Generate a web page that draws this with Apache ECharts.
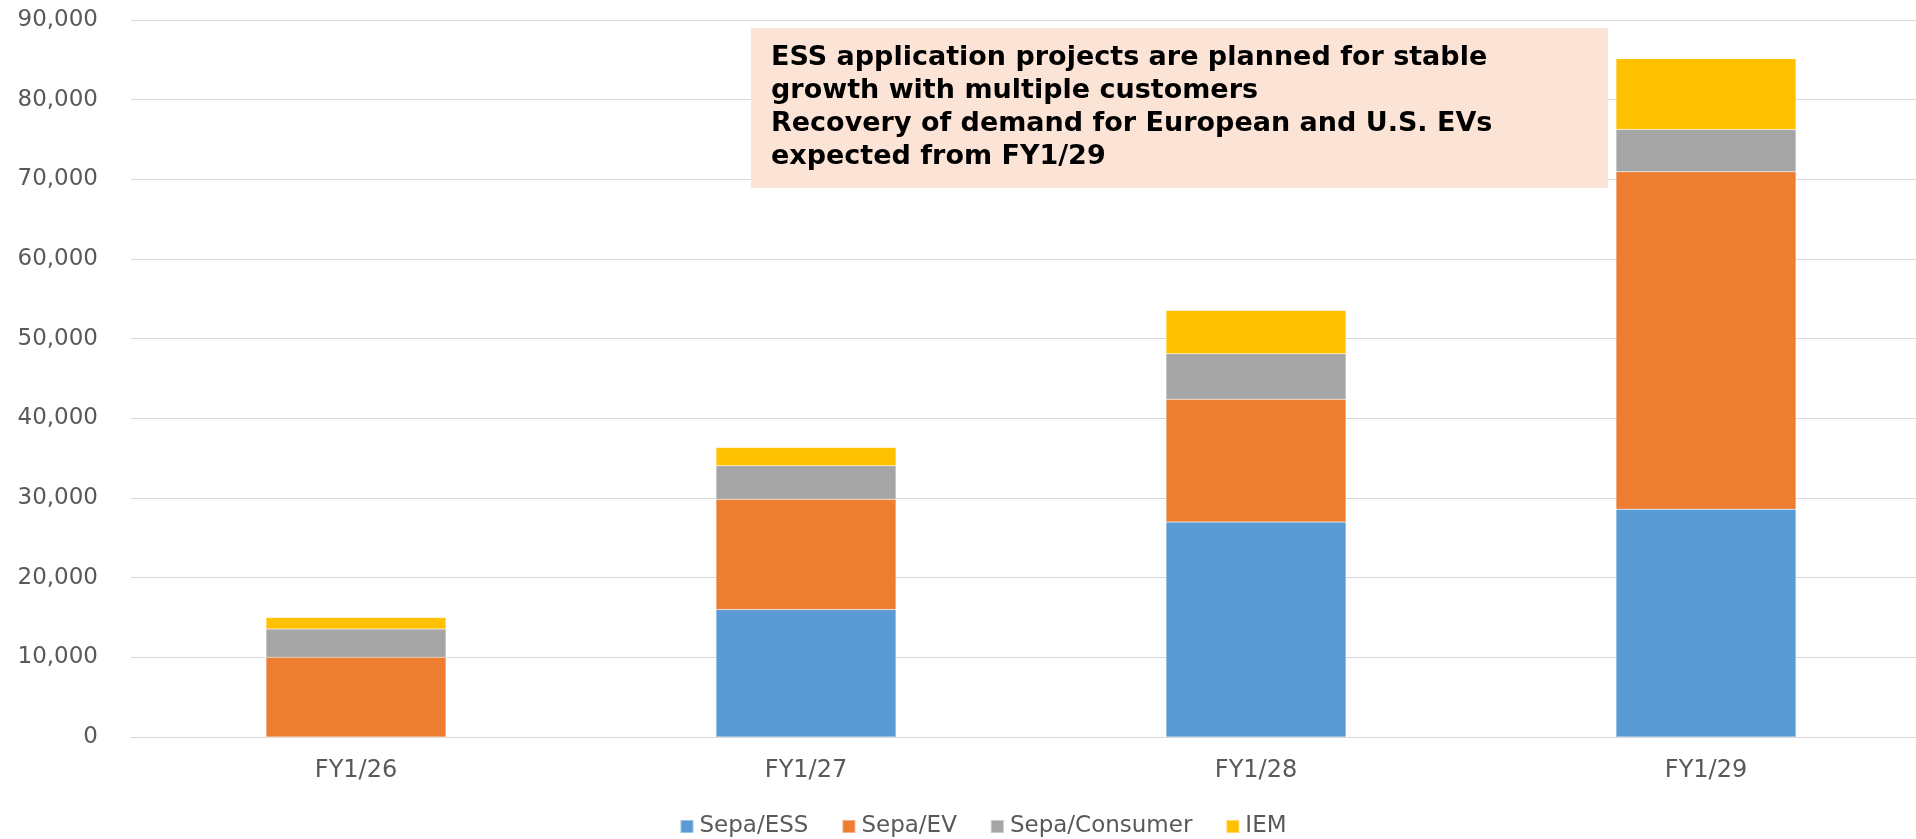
<!DOCTYPE html>
<html>
<head>
<meta charset="utf-8">
<script src="https://cdn.jsdelivr.net/npm/echarts@6/dist/echarts.min.js"></script>
<style>
html,body{margin:0;padding:0;background:#fff;overflow:hidden;}
#chart{width:1966px;height:839px;}
</style>
</head>
<body>
<div id="chart"></div>
<script>
var categories = ['FY1/26', 'FY1/27', 'FY1/28', 'FY1/29'];
var sepaESS = [0, 16000, 27000, 28600];
var sepaEV = [10000, 13850, 15400, 42350];
var sepaConsumer = [3550, 4200, 5700, 5300];
var iem = [1450, 2300, 5450, 8900];
var seriesNames = ['Sepa/ESS', 'Sepa/EV', 'Sepa/Consumer', 'IEM'];
var yTicks = [0, 10000, 20000, 30000, 40000, 50000, 60000, 70000, 80000, 90000];
var noteText = 'ESS application projects are planned for stable\ngrowth with multiple customers\nRecovery of demand for European and U.S. EVs\nexpected from FY1/29';

var colors = ['#5B9BD5', '#ED7D31', '#A5A5A5', '#FFC000'];
var font = 'DejaVu Sans, Verdana, sans-serif';
var chart = echarts.init(document.getElementById('chart'));
var dataSets = [sepaESS, sepaEV, sepaConsumer, iem];
chart.setOption({
  animation: false,
  color: colors,
  grid: {left: 131, top: 20, bottom: 102, right: 35, containLabel: false},
  legend: {
    top: 810, left: 'center',
    itemWidth: 13, itemHeight: 13, itemGap: 33,
    icon: 'rect',
    textStyle: {color: '#595959', fontSize: 23, fontFamily: font, padding: [0, 0, 0, 1]},
    data: seriesNames
  },
  xAxis: {
    type: 'category', data: categories,
    axisLine: {show: true, lineStyle: {color: '#D9D9D9', width: 1}},
    axisTick: {show: false},
    axisLabel: {color: '#595959', fontSize: 24, fontFamily: font, margin: 22}
  },
  yAxis: {
    type: 'value', min: yTicks[0], max: yTicks[yTicks.length - 1], interval: yTicks[1] - yTicks[0],
    axisLine: {show: false}, axisTick: {show: false},
    splitLine: {lineStyle: {color: '#D9D9D9', width: 1}},
    axisLabel: {color: '#595959', fontSize: 23, fontFamily: font, margin: 33,
      formatter: function (v) { return v.toLocaleString('en-US'); }}
  },
  series: seriesNames.map(function (n, i) {
    return {name: n, type: 'bar', stack: 'total', barWidth: '40%', data: dataSets[i],
      itemStyle: {borderColor: 'rgba(255,255,255,0.4)', borderWidth: 0.5}};
  }),
  graphic: [
    {type: 'rect', shape: {x: 751, y: 28, width: 857, height: 160}, style: {fill: '#FBE4D6'}, z: 10},
    {type: 'text', x: 771, y: 41.5, z: 11, style: {text: noteText, fill: '#000', font: 'bold 27px ' + font, lineHeight: 33}}
  ]
});
</script>
</body>
</html>
